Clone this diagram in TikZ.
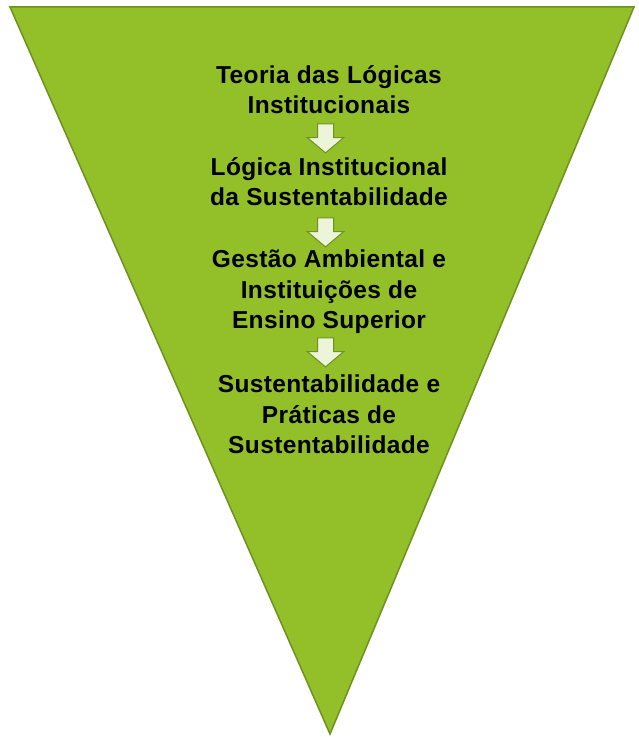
\documentclass[tikz,border=0pt]{standalone}
\usepackage{fontspec}
\setmainfont[LetterSpace=1.5]{Liberation Sans}
\usetikzlibrary{shapes.arrows}
\definecolor{funnelgreen}{RGB}{147,192,40}
\definecolor{funneledge}{RGB}{108,146,32}
\definecolor{arrowfill}{RGB}{236,244,218}
\tikzset{
  stage/.style={align=center, inner sep=0pt, anchor=north, font=\bfseries\fontsize{24.5}{30.5}\selectfont},
  downarrow/.style={single arrow, shape border rotate=270, fill=arrowfill, draw=funneledge, line width=1pt,
    minimum height=29pt, minimum width=35pt, single arrow head extend=10pt, single arrow tip angle=100, inner sep=7.5pt}
}
\begin{document}
\begin{tikzpicture}[x=1pt,y=1pt]
\useasboundingbox (0,0) rectangle (638,737);
\coordinate (topleft) at (10,730);
\coordinate (topright) at (634,730);
\coordinate (apex) at (330,3);
\filldraw[fill=funnelgreen, draw=funneledge, line width=1.5pt] (topleft) -- (topright) -- (apex) -- cycle;

\node[stage] (teoria) at (329,672) {Teoria das Lógicas\\Institucionais};
\node[downarrow] (arrowA) at (325.5,602) {};
\node[stage] (logica) at (329,580) {Lógica Institucional\\da Sustentabilidade};
\node[downarrow] (arrowB) at (325.5,508) {};
\node[stage] (gestao) at (329,487) {Gestão Ambiental e\\Instituições de\\Ensino Superior};
\node[downarrow] (arrowC) at (325.5,388) {};
\node[stage] (praticas) at (329,362) {Sustentabilidade e\\Práticas de\\Sustentabilidade};
\end{tikzpicture}
\end{document}
